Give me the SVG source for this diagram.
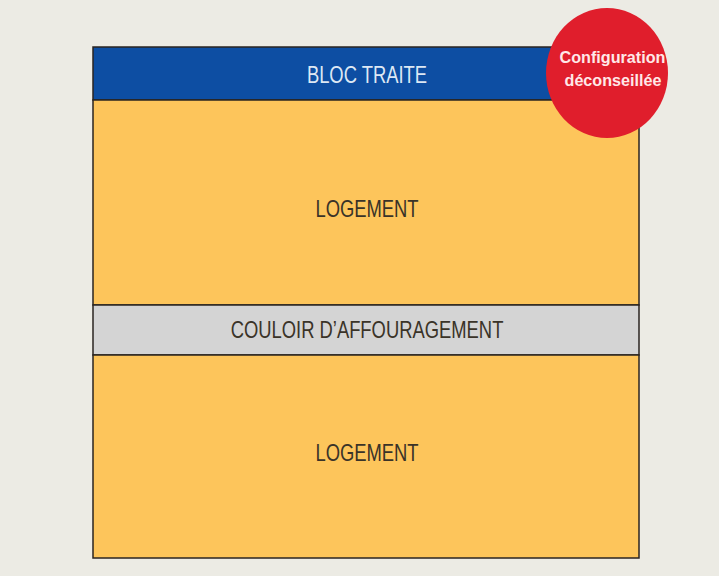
<svg xmlns="http://www.w3.org/2000/svg" width="719" height="576" viewBox="0 0 719 576">
<style>
.lbl{font-family:"Liberation Sans",Arial,sans-serif;font-size:23px;text-anchor:middle;fill:#3a3328}
.band{stroke:#2a2420;stroke-width:1.5}
.badge{font-family:"Liberation Sans",Arial,sans-serif;font-size:17px;font-weight:bold;text-anchor:middle;fill:#ffe8e8}
</style>
<rect width="719" height="576" fill="#ecebe4"/>
<g id="bloc">
<rect class="band" x="93" y="47" width="546" height="53" fill="#0d4ea3"/>
<text class="lbl" transform="translate(367,83) scale(0.8,1)" style="fill:#dde8f4">BLOC TRAITE</text>
</g>
<g id="logement1">
<rect class="band" x="93" y="100" width="546" height="205" fill="#fdc55b"/>
<text class="lbl" transform="translate(367,217) scale(0.8,1)">LOGEMENT</text>
</g>
<g id="couloir">
<rect class="band" x="93" y="305" width="546" height="50" fill="#d4d4d4"/>
<text class="lbl" transform="translate(367,338) scale(0.8,1)">COULOIR D’AFFOURAGEMENT</text>
</g>
<g id="logement2">
<rect class="band" x="93" y="355" width="546" height="203" fill="#fdc55b"/>
<text class="lbl" transform="translate(367,461) scale(0.8,1)">LOGEMENT</text>
</g>
<g id="badge">
<ellipse cx="607" cy="73" rx="61" ry="65" fill="#e01e2c"/>
<text class="badge" transform="translate(612.5,63) scale(0.95,1)">Configuration</text>
<text class="badge" transform="translate(613,86) scale(0.95,1)">déconseillée</text>
</g>
<g id="connectors"/>
</svg>
